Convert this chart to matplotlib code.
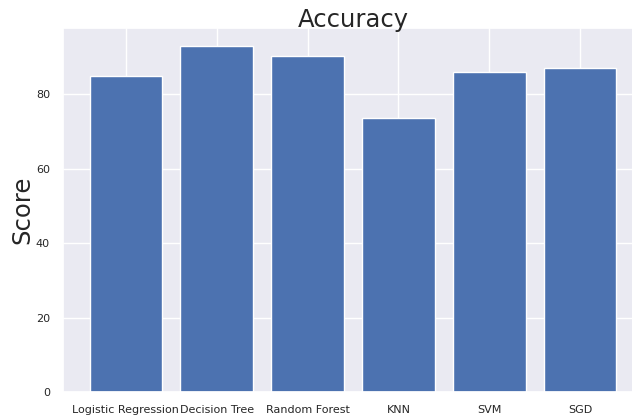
import matplotlib
matplotlib.use("Agg")
import matplotlib.pyplot as plt
import seaborn as sns

models = ["Logistic Regression", "Decision Tree", "Random Forest", "KNN", "SVM", "SGD"]
scores = [84.9, 93.1, 90.3, 73.7, 86.0, 87.1]

sns.set_theme(style="darkgrid")

fig, ax = plt.subplots(figsize=(6.32, 4.17), dpi=100)
ax.bar(models, scores, color="#4c72b0")
ax.set_title("Accuracy", fontsize=17.5, pad=1)
ax.set_ylabel("Score", fontsize=17.5, labelpad=1)
ax.tick_params(axis="both", labelsize=8)

# the original image is cropped on the right, so the axes run past the edge
fig.subplots_adjust(left=0.10, right=1.017, top=0.932, bottom=0.06)
fig.savefig("out.png", dpi=100)
